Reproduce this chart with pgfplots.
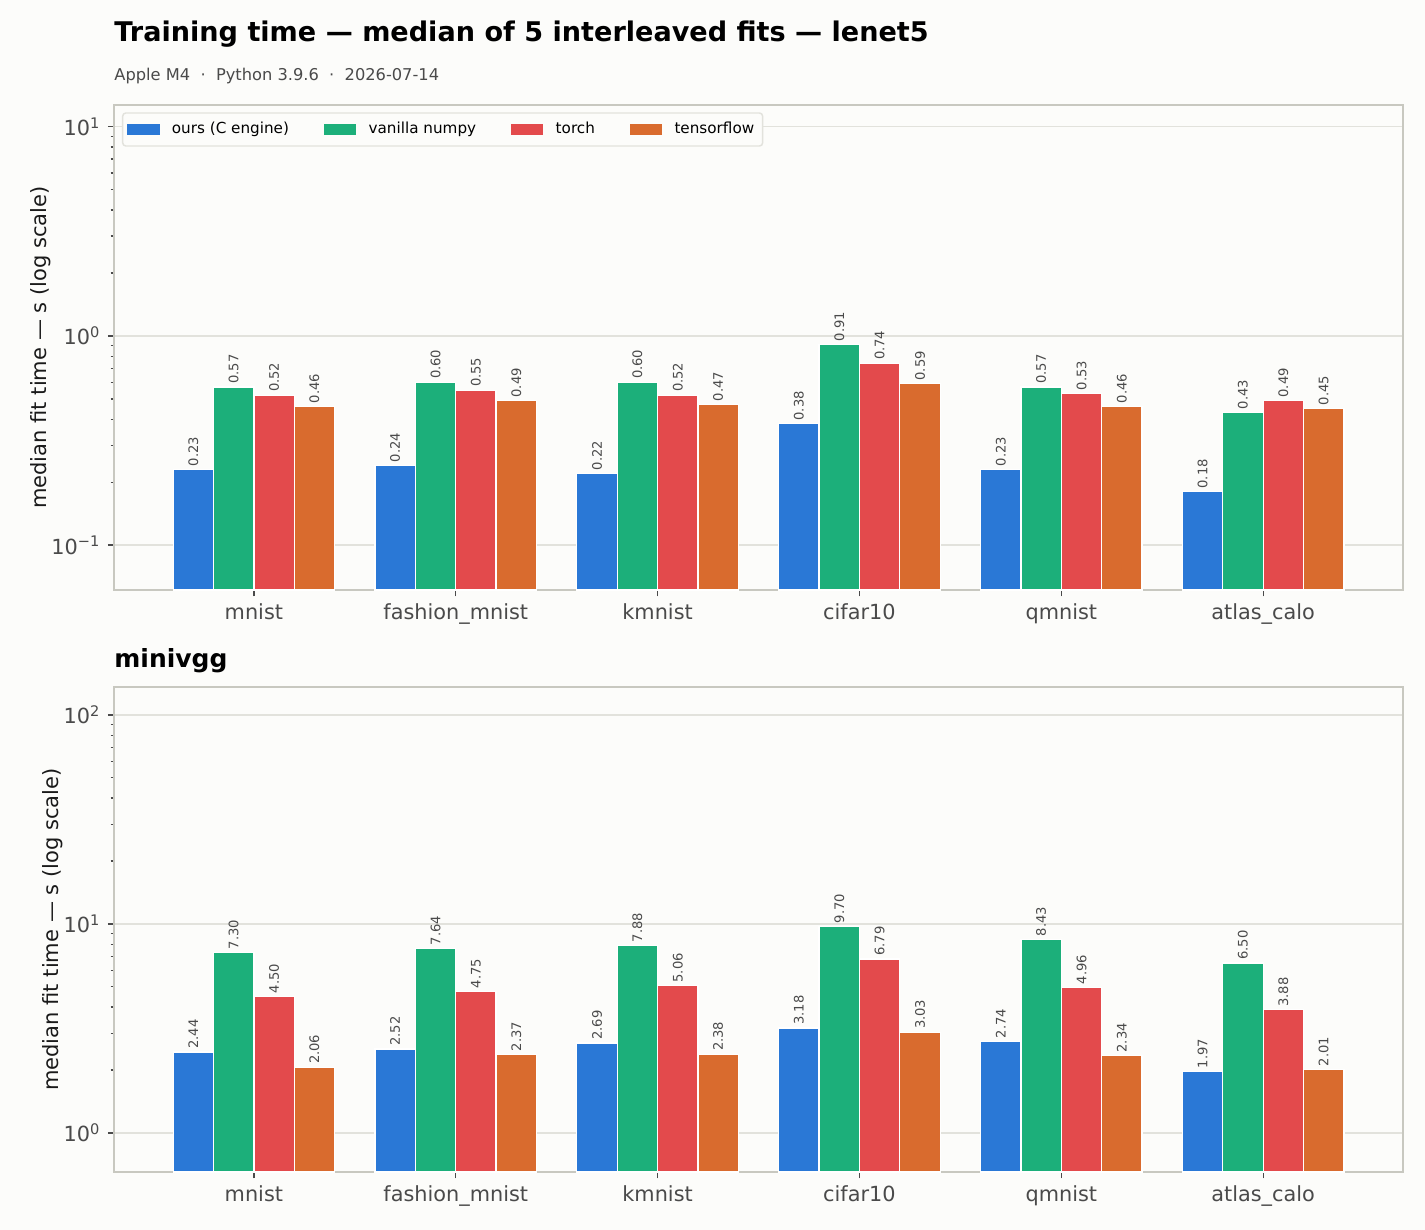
\documentclass[border=0pt]{standalone}
\usepackage{fontspec}
\setmainfont{DejaVu Sans}
\usepackage{pgfplots}
\usepackage{pgfplotstable}
\pgfplotsset{compat=1.18}

\definecolor{bg}{HTML}{FCFCFA}
\definecolor{cblue}{HTML}{2A78D6}
\definecolor{cgreen}{HTML}{1CAF7A}
\definecolor{cred}{HTML}{E34A4C}
\definecolor{corange}{HTML}{D96B2E}
\definecolor{framec}{HTML}{C8C8C0}
\definecolor{gridc}{HTML}{E2E2DC}
\definecolor{tickc}{HTML}{4A4A4A}
\definecolor{labc}{HTML}{1A1A1A}

% median fit time (s) per dataset and framework
\pgfplotstableread{
x ours numpy torch tf
0 0.23 0.57 0.52 0.46
1 0.24 0.60 0.55 0.49
2 0.22 0.60 0.52 0.47
3 0.38 0.91 0.74 0.59
4 0.23 0.57 0.53 0.46
5 0.18 0.43 0.49 0.45
}\lenet
\pgfplotstableread{
x ours numpy torch tf
0 2.44 7.30 4.50 2.06
1 2.52 7.64 4.75 2.37
2 2.69 7.88 5.06 2.38
3 3.18 9.70 6.79 3.03
4 2.74 8.43 4.96 2.34
5 1.97 6.50 3.88 2.01
}\minivgg

\pgfplotsset{
  barlabel/.style={
    nodes near coords={\pgfmathprintnumber[fixed,fixed zerofill,precision=2,assume math mode=true]{\pgfplotspointmeta}},
    point meta=rawy,
    nodes near coords style={rotate=90, anchor=west, inner sep=1.3pt,
      font=\fontsize{6.3}{7}\selectfont, text=tickc},
  },
}

\begin{document}
\begin{tikzpicture}
\fill[bg] (0,0) rectangle (684pt,-590.4pt);

\node[anchor=base west, inner sep=0pt, text=black, font=\fontsize{13}{15}\selectfont\bfseries]
  at (54.72pt,-20.16pt) {Training time — median of 5 interleaved fits — lenet5};
\node[anchor=base west, inner sep=0pt, text=tickc, font=\fontsize{7.8}{9}\selectfont]
  at (54.72pt,-38.88pt) {Apple M4 \ · \ Python 3.9.6 \ · \ 2026-07-14};
\node[anchor=base west, inner sep=0pt, text=black, font=\fontsize{12}{14}\selectfont\bfseries]
  at (54.72pt,-320.16pt) {minivgg};

% lenet5
\begin{axis}[at={(54.72pt,-50.4pt)}, anchor=north west,
    scale only axis, width=618.72pt, height=232.8pt,
    ymode=log, log origin y=infty,
    ybar, bar width=0.2,
    xmin=-0.693, xmax=5.693,
    ymin=0.061, ymax=12.7,
    xtick={0,...,5},
    xticklabels={mnist,fashion\_mnist,kmnist,cifar10,qmnist,atlas\_calo},
    ytick={0.1,1,10},
    yticklabels={10\textsuperscript{−1},10\textsuperscript{0},10\textsuperscript{1}},
    xtick pos=bottom, ytick pos=left, tick align=outside,
    major tick length=3pt, minor tick length=1.6pt,
    tick style={tickc, line width=0.6pt},
    axis line style={framec, line width=0.75pt},
    ymajorgrids, grid style={gridc, line width=0.6pt},
    ticklabel style={font=\fontsize{10}{12}\selectfont, text=tickc},
    ylabel={median fit time — s (log scale)},
    ylabel style={font=\fontsize{10.1}{12}\selectfont, text=labc},
    ylabel shift=-6.5pt,
    clip=false,
    legend columns=4,
    legend style={at={(0.0062,0.985)}, anchor=north west, draw=gridc, line width=0.7pt,
      rounded corners=1.5pt, fill=bg, font=\fontsize{7.3}{8.5}\selectfont,
      inner xsep=2pt, inner ysep=2.4pt,
      /tikz/every odd column/.append style={column sep=3.9pt},
      /tikz/every even column/.append style={column sep=14.6pt}},
    legend cell align=left,
  ]
  \addplot[bar shift=-0.3, fill=cblue, draw=white, line width=0.6pt, barlabel, forget plot] table[x=x, y=ours] {\lenet};
  \addplot[bar shift=-0.1, fill=cgreen, draw=white, line width=0.6pt, barlabel, forget plot] table[x=x, y=numpy] {\lenet};
  \addplot[bar shift=0.1, fill=cred, draw=white, line width=0.6pt, barlabel, forget plot] table[x=x, y=torch] {\lenet};
  \addplot[bar shift=0.3, fill=corange, draw=white, line width=0.6pt, barlabel, forget plot] table[x=x, y=tf] {\lenet};
  \addlegendimage{legend image code/.code={\fill[cblue, sharp corners] (0pt,-2.3pt) rectangle (15pt,2.3pt);}}
  \addlegendentry{ours (C engine)}
  \addlegendimage{legend image code/.code={\fill[cgreen, sharp corners] (0pt,-2.3pt) rectangle (15pt,2.3pt);}}
  \addlegendentry{vanilla numpy}
  \addlegendimage{legend image code/.code={\fill[cred, sharp corners] (0pt,-2.3pt) rectangle (15pt,2.3pt);}}
  \addlegendentry{torch}
  \addlegendimage{legend image code/.code={\fill[corange, sharp corners] (0pt,-2.3pt) rectangle (15pt,2.3pt);}}
  \addlegendentry{tensorflow}
\end{axis}

% minivgg
\begin{axis}[at={(54.72pt,-329.76pt)}, anchor=north west,
    scale only axis, width=618.72pt, height=232.8pt,
    ymode=log, log origin y=infty,
    ybar, bar width=0.2,
    xmin=-0.693, xmax=5.693,
    ymin=0.65, ymax=136,
    xtick={0,...,5},
    xticklabels={mnist,fashion\_mnist,kmnist,cifar10,qmnist,atlas\_calo},
    ytick={1,10,100},
    yticklabels={10\textsuperscript{0},10\textsuperscript{1},10\textsuperscript{2}},
    xtick pos=bottom, ytick pos=left, tick align=outside,
    major tick length=3pt, minor tick length=1.6pt,
    tick style={tickc, line width=0.6pt},
    axis line style={framec, line width=0.75pt},
    ymajorgrids, grid style={gridc, line width=0.6pt},
    ticklabel style={font=\fontsize{10}{12}\selectfont, text=tickc},
    ylabel={median fit time — s (log scale)},
    ylabel style={font=\fontsize{10.1}{12}\selectfont, text=labc},
    ylabel shift=-6.5pt,
    clip=false,
  ]
  \addplot[bar shift=-0.3, fill=cblue, draw=white, line width=0.6pt, barlabel] table[x=x, y=ours] {\minivgg};
  \addplot[bar shift=-0.1, fill=cgreen, draw=white, line width=0.6pt, barlabel] table[x=x, y=numpy] {\minivgg};
  \addplot[bar shift=0.1, fill=cred, draw=white, line width=0.6pt, barlabel] table[x=x, y=torch] {\minivgg};
  \addplot[bar shift=0.3, fill=corange, draw=white, line width=0.6pt, barlabel] table[x=x, y=tf] {\minivgg};
\end{axis}
\end{tikzpicture}
\end{document}
